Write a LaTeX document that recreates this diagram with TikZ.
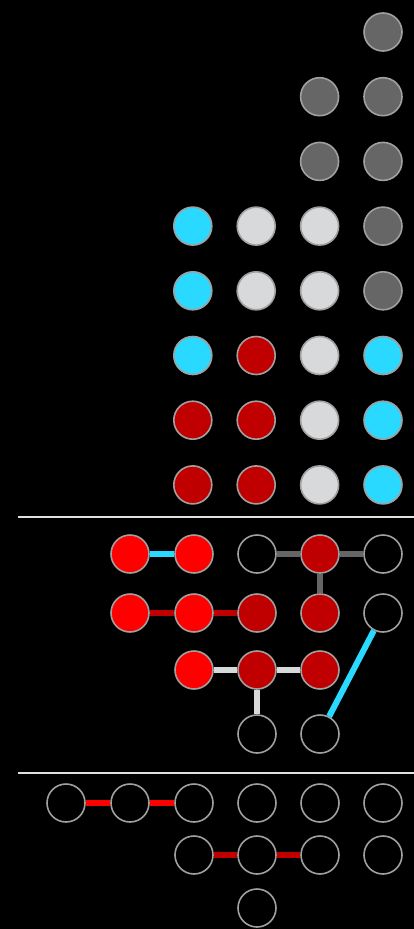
\documentclass[tikz,border=0pt]{standalone}
\usetikzlibrary{positioning}
\definecolor{grayx}{HTML}{666666}
\definecolor{lightx}{HTML}{D8D9DB}
\definecolor{cyanx}{HTML}{29D9FF}
\definecolor{darkredx}{HTML}{C00000}
\definecolor{redx}{HTML}{FF0000}
\definecolor{rimx}{HTML}{A0A0A0}
\tikzset{
  dot/.style={circle,draw=rimx,line width=1.6pt,fill=black,minimum size=38pt,inner sep=0pt},
  link/.style={line width=6pt},
  rule/.style={draw=white!88!black,line width=2pt}
}

\begin{document}
\begin{tikzpicture}[x=1pt,y=-1pt]
\fill[black] (0,0) rectangle (414,929);
\useasboundingbox (0,0) rectangle (414,929);
% upper block: columns 3..6, rows 1..8
\foreach \c/\r/\col in {
  6/1/grayx,
  5/2/grayx, 6/2/grayx,
  5/3/grayx, 6/3/grayx,
  3/4/cyanx, 4/4/lightx, 5/4/lightx, 6/4/grayx,
  3/5/cyanx, 4/5/lightx, 5/5/lightx, 6/5/grayx,
  3/6/cyanx, 4/6/darkredx, 5/6/lightx, 6/6/cyanx,
  3/7/darkredx, 4/7/darkredx, 5/7/lightx, 6/7/cyanx,
  3/8/darkredx, 4/8/darkredx, 5/8/lightx, 6/8/cyanx}
  \node[dot,fill=\col] (t\c\r) at ({66+(\c-1)*63.4},{32+(\r-1)*64.7}) {};
\draw[rule] (18,517) -- (414,517);
% middle block
\node[dot,fill=redx] (ma) at (130,554) {};
\node[dot,fill=redx] (mb) at (194,554) {};
\node[dot] (mc) at (257,554) {};
\node[dot,fill=darkredx] (md) at (320,554) {};
\node[dot] (me) at (383,554) {};
\node[dot,fill=redx] (mf) at (130,613) {};
\node[dot,fill=redx] (mg) at (194,613) {};
\node[dot,fill=darkredx] (mh) at (257,613) {};
\node[dot,fill=darkredx] (mi) at (320,613) {};
\node[dot] (mj) at (383,613) {};
\node[dot,fill=redx] (mk) at (194,670) {};
\node[dot,fill=darkredx] (ml) at (257,670) {};
\node[dot,fill=darkredx] (mm) at (320,670) {};
\node[dot] (mn) at (257,734) {};
\node[dot] (mo) at (320,734) {};
\draw[link,cyanx] (ma) -- (mb);
\draw[link,grayx] (mc) -- (md);
\draw[link,grayx] (md) -- (me);
\draw[link,grayx] (md) -- (mi);
\draw[link,darkredx] (mf) -- (mg);
\draw[link,darkredx] (mg) -- (mh);
\draw[link,lightx] (mk) -- (ml);
\draw[link,lightx] (ml) -- (mm);
\draw[link,lightx] (ml) -- (mn);
\draw[link,cyanx] (mo) -- (mj);
\draw[rule] (18,773) -- (414,773);
% lower block
\foreach \n/\x/\y in {1/66/803, 2/130/803, 3/194/803, 4/257/803, 5/320/803, 6/383/803,
  7/194/855, 8/257/855, 9/320/855, 10/383/855, 11/257/908}
  \node[dot] (b\n) at (\x,\y) {};
\draw[link,redx] (b1) -- (b2);
\draw[link,redx] (b2) -- (b3);
\draw[link,darkredx] (b7) -- (b8);
\draw[link,darkredx] (b8) -- (b9);
\end{tikzpicture}
\end{document}
